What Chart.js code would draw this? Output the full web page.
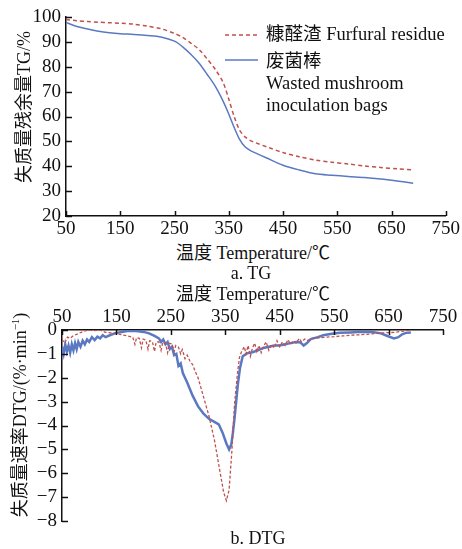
<!DOCTYPE html>
<html>
<head>
<meta charset="utf-8">
<script src="https://cdn.jsdelivr.net/npm/chart.js@4.4.1/dist/chart.umd.min.js"></script>
<style>
  html, body { margin: 0; padding: 0; background: #fff; }
  #wrap { position: relative; width: 462px; height: 549px; overflow: hidden;
          font-family: 'Liberation Serif', 'Noto Sans CJK SC', serif; font-size: 18px; color: #111; }
  canvas { position: absolute; left: 0; }
  .t { position: absolute; white-space: nowrap; transform: translate(-50%, -50%); line-height: 1; }
  .rot { transform: translate(-50%, -50%) rotate(-90deg); }
  .lg { position: absolute; left: 266px; white-space: nowrap; transform: translateY(-50%); line-height: 1; font-size: 18.5px; }
  svg { position: absolute; left: 0; top: 0; }
</style>
</head>
<body>
<div id="wrap">
  <canvas id="tg" width="462" height="240" style="top:0"></canvas>
  <canvas id="dtg" width="462" height="270" style="top:270px"></canvas>

  <svg width="462" height="120">
    <line x1="225" y1="35" x2="258" y2="35" stroke="#C0504D" stroke-width="1.5" stroke-dasharray="4 3"/>
    <line x1="225" y1="60" x2="258" y2="60" stroke="#5B79C2" stroke-width="1.5"/>
  </svg>
  <div class="lg" style="top:34px">糠醛渣 Furfural residue</div>
  <div class="lg" style="top:61px">废菌棒</div>
  <div class="lg" style="top:83px">Wasted mushroom</div>
  <div class="lg" style="top:105px">inoculation bags</div>

  <div class="t" style="left:253px; top:253px">温度 Temperature/℃</div>
  <div class="t" style="left:251px; top:273px">a. TG</div>
  <div class="t" style="left:253px; top:294px">温度 Temperature/℃</div>
  <div class="t" style="left:258px; top:538px">b. DTG</div>
  <div class="t rot" style="left:24px; top:107px">失质量残余量TG/%</div>
  <div class="t rot" style="left:19px; top:415px">失质量速率DTG/(%·min<sup style="font-size:11px">−1</sup>)</div>
</div>

<script>
// ── TG data (°C, % residue) ──
const tgTemp = [50, 70, 90, 110, 130, 150, 175, 200, 225, 250, 265, 280, 295, 310, 325, 340, 350, 360, 370, 380, 390, 400, 420, 450, 480, 510, 540, 570, 600, 630, 660, 690];
const tgFurfural = [99.0, 98.5, 98.2, 97.9, 97.7, 97.5, 97.1, 96.3, 95.3, 93.4, 91.8, 89.5, 87.0, 83.2, 79.0, 73.5, 67.0, 60.0, 54.5, 51.8, 50.3, 49.4, 47.8, 45.5, 43.8, 42.5, 41.6, 40.9, 40.1, 39.5, 39.0, 38.5];
const tgMushroom = [97.8, 96.2, 95.2, 94.3, 93.7, 93.3, 93.0, 92.6, 92.0, 90.3, 88.0, 85.0, 81.5, 77.0, 72.2, 66.0, 61.0, 55.6, 50.8, 47.8, 46.3, 45.3, 43.3, 40.4, 38.5, 37.0, 36.4, 35.9, 35.5, 34.9, 34.1, 33.2];

// ── DTG data (°C, %/min) ──
const dtgFurfuralTemp = [50, 55, 60, 65, 70, 80, 90, 100, 110, 120, 130, 140, 150, 160, 170, 180, 184, 187, 192, 196, 199, 204, 208, 211, 216, 220, 223, 228, 232, 235, 240, 244, 247, 252, 256, 259, 264, 268, 271, 276, 280, 285, 290, 295, 300, 310, 320, 330, 340, 347, 352, 357, 362, 367, 372, 376, 380, 385, 388, 392, 396, 400, 404, 408, 412, 416, 420, 425, 430, 435, 440, 445, 450, 455, 460, 465, 470, 475, 480, 486, 490, 496, 500, 510, 520, 535, 550, 565, 580, 595, 610, 625, 640, 660, 680, 690];
const dtgFurfural = [-0.4, -0.55, -0.3, -0.35, -0.25, -0.15, -0.05, 0, -0.02, 0, -0.1, -0.12, -0.15, -0.2, -0.25, -0.3, -0.6, -0.32, -0.35, -0.75, -0.38, -0.42, -0.8, -0.45, -0.48, -0.9, -0.5, -0.5, -0.85, -0.52, -0.55, -0.95, -0.56, -0.58, -0.9, -0.65, -0.72, -1.0, -0.82, -1.2, -1.05, -1.3, -1.45, -1.75, -2.0, -2.8, -3.6, -4.6, -5.9, -6.8, -7.15, -6.7, -5.1, -3.1, -1.9, -1.15, -0.9, -0.7, -1.0, -0.65, -1.1, -0.75, -0.55, -0.9, -0.65, -0.95, -0.7, -0.5, -0.85, -0.6, -0.75, -0.45, -0.7, -0.5, -0.65, -0.4, -0.6, -0.45, -0.55, -0.35, -0.5, -0.38, -0.45, -0.35, -0.33, -0.3, -0.28, -0.25, -0.22, -0.2, -0.18, -0.15, -0.12, -0.1, -0.04, 0];

const dtgMushroomTemp = [50, 53, 56, 59, 62, 65, 68, 71, 74, 77, 80, 84, 88, 92, 96, 100, 105, 110, 115, 120, 125, 130, 140, 150, 160, 170, 180, 190, 200, 210, 220, 228, 232, 236, 240, 244, 248, 252, 256, 260, 264, 268, 272, 280, 290, 300, 310, 320, 330, 338, 345, 352, 357, 361, 364, 367, 370, 373, 377, 382, 390, 400, 410, 420, 430, 440, 450, 460, 470, 480, 488, 494, 500, 507, 520, 530, 543, 560, 580, 600, 620, 636, 648, 660, 668, 675, 682, 691];
const dtgMushroom = [-0.7, -1.0, -0.6, -0.9, -0.65, -0.95, -0.6, -0.85, -0.55, -0.8, -0.5, -0.7, -0.45, -0.6, -0.4, -0.5, -0.3, -0.42, -0.28, -0.35, -0.22, -0.3, -0.2, -0.12, -0.08, -0.04, -0.03, -0.05, -0.08, -0.14, -0.25, -0.35, -0.5, -0.4, -0.6, -0.5, -0.8, -0.7, -1.05, -1.0, -1.5, -1.4, -1.8, -2.2, -2.75, -3.2, -3.5, -3.72, -3.85, -3.95, -4.3, -4.75, -5.0, -4.8, -4.3, -3.7, -3.0, -2.3, -1.6, -1.1, -0.98, -0.93, -0.85, -0.75, -0.7, -0.65, -0.65, -0.6, -0.55, -0.5, -0.52, -0.65, -0.55, -0.38, -0.3, -0.22, -0.17, -0.12, -0.1, -0.07, -0.08, -0.14, -0.25, -0.35, -0.3, -0.18, -0.12, -0.1];

const RED = '#C0504D';
const BLUE = '#5B79C2';
const FONT = "'Liberation Serif', 'Noto Sans CJK SC', serif";
const TICK_FONT = { size: 19, family: FONT };

const pts = (xs, ys) => xs.map((x, i) => ({ x, y: ys[i] }));

Chart.defaults.font.family = FONT;
Chart.defaults.color = '#111';

// ticks drawn inward from the axis line
const innerTicks = {
  id: 'innerTicks',
  afterDraw(chart) {
    const ctx = chart.ctx;
    ctx.save();
    ctx.strokeStyle = '#111';
    ctx.lineWidth = 1.5;
    Object.values(chart.scales).forEach(s => {
      s.ticks.forEach(t => {
        ctx.beginPath();
        if (s.isHorizontal()) {
          const px = Math.round(s.getPixelForValue(t.value)) + 0.5;
          if (s.position === 'top') { ctx.moveTo(px, s.bottom); ctx.lineTo(px, s.bottom + 5); }
          else { ctx.moveTo(px, s.top); ctx.lineTo(px, s.top - 5); }
        } else {
          const py = Math.round(s.getPixelForValue(t.value)) + 0.5;
          ctx.moveTo(s.right, py); ctx.lineTo(s.right + 6, py);
        }
        ctx.stroke();
      });
    });
    ctx.restore();
  }
};

function axis(extra) {
  return Object.assign({
    type: 'linear',
    grid: { display: false, drawTicks: false },
    border: { display: true, color: '#111', width: 1.5 }
  }, extra);
}

new Chart(document.getElementById('tg'), {
  type: 'line',
  data: {
    datasets: [
      { data: pts(tgTemp, tgFurfural), borderColor: RED, borderWidth: 1.5, borderDash: [4, 3], pointRadius: 0, tension: 0.3 },
      { data: pts(tgTemp, tgMushroom), borderColor: BLUE, borderWidth: 1.5, pointRadius: 0, tension: 0.3 }
    ]
  },
  options: {
    responsive: false, animation: false, devicePixelRatio: 1,
    layout: { padding: { left: 0, top: 17, right: 13, bottom: 0 } },
    plugins: { legend: { display: false }, tooltip: { enabled: false } },
    scales: {
      x: axis({ position: 'bottom', min: 50, max: 750, ticks: { stepSize: 100, padding: 2, maxRotation: 0, autoSkip: false, font: TICK_FONT, color: '#111' },
                afterFit: s => { s.height = 24; } }),
      y: axis({ position: 'left', min: 20, max: 100, ticks: { stepSize: 10, padding: 5, autoSkip: false, font: TICK_FONT, color: '#111' },
                afterFit: s => { s.width = 66; } })
    }
  },
  plugins: [innerTicks]
});

new Chart(document.getElementById('dtg'), {
  type: 'line',
  data: {
    datasets: [
      { data: pts(dtgFurfuralTemp, dtgFurfural), borderColor: RED, borderWidth: 1.3, borderDash: [3, 2], pointRadius: 0, tension: 0 },
      { data: pts(dtgMushroomTemp, dtgMushroom), borderColor: BLUE, borderWidth: 2.5, pointRadius: 0, tension: 0 }
    ]
  },
  options: {
    responsive: false, animation: false, devicePixelRatio: 1,
    layout: { padding: { left: 0, top: 32, right: 19, bottom: 19 } },
    plugins: { legend: { display: false }, tooltip: { enabled: false } },
    scales: {
      x: axis({ position: 'top', min: 50, max: 750, ticks: { stepSize: 100, padding: 2, maxRotation: 0, autoSkip: false, font: TICK_FONT, color: '#111' },
                afterFit: s => { s.height = 28; } }),
      y: axis({ position: 'left', min: -8, max: 0, ticks: { stepSize: 1, padding: 5, autoSkip: false, font: TICK_FONT, color: '#111',
                callback: v => String(v).replace('-', '−') },
                afterFit: s => { s.width = 62; } })
    }
  },
  plugins: [innerTicks]
});
</script>
</body>
</html>
